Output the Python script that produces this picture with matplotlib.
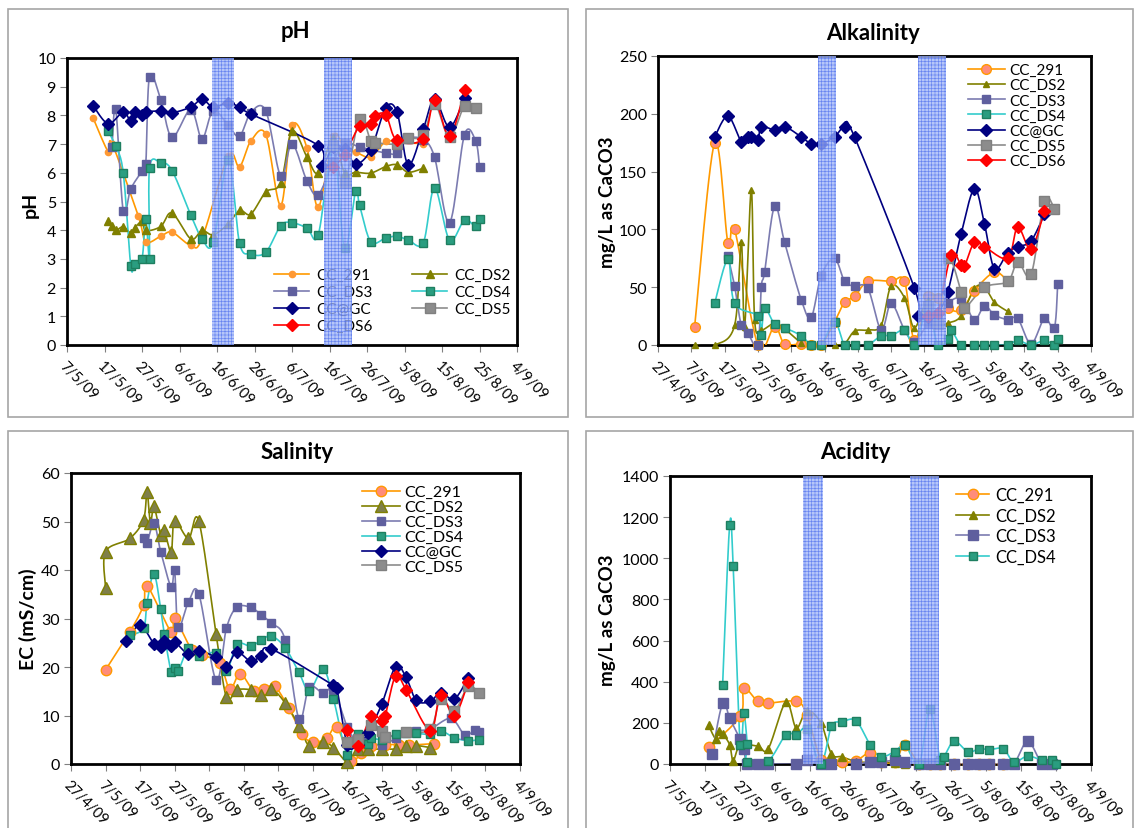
"""Four-panel water quality time series (pH, alkalinity, salinity, acidity)."""

from datetime import datetime, timedelta

import matplotlib

matplotlib.use("Agg")
import matplotlib.dates as mdates
import matplotlib.pyplot as plt
import numpy as np
from matplotlib.lines import Line2D
from matplotlib.patches import Rectangle
from matplotlib.transforms import ScaledTranslation

plt.rcParams["font.family"] = ["Lato", "DejaVu Sans"]
plt.rcParams["hatch.linewidth"] = 0.45

# ---------------------------------------------------------------- data
# (sample date d/m of 2009, value)
PH_CC291 = [("14/5", 7.9), ("18/5", 6.73), ("19/5", 7.02), ("26/5", 4.5), ("28/5", 3.6),
            ("1/6", 3.79), ("4/6", 3.93), ("9/6", 3.47), ("12/6", 3.71), ("19/6", 6.58),
            ("22/6", 6.21), ("25/6", 7.1), ("29/6", 7.34), ("3/7", 4.86), ("6/7", 7.65),
            ("10/7", 6.86), ("13/7", 4.8), ("17/7", 7.28), ("20/7", 6.85), ("23/7", 6.72),
            ("27/7", 6.55), ("31/7", 7.1), ("3/8", 7.05), ("10/8", 7.02)]
PH_DS2 = [("18/5", 4.31), ("19/5", 4.13), ("20/5", 3.99), ("22/5", 4.12), ("24/5", 3.9),
          ("25/5", 4.08), ("27/5", 4.31), ("28/5", 3.99), ("1/6", 4.13), ("4/6", 4.6),
          ("9/6", 3.7), ("12/6", 3.99), ("15/6", 3.84), ("19/6", 4.22), ("22/6", 4.69),
          ("25/6", 4.56), ("29/6", 5.33), ("3/7", 5.65), ("6/7", 7.45), ("10/7", 6.55),
          ("13/7", 5.99), ("17/7", 7.2), ("20/7", 6.0), ("23/7", 6.02), ("27/7", 5.99),
          ("31/7", 6.22), ("3/8", 6.28), ("6/8", 6.02), ("10/8", 6.16)]
PH_DS3 = [("19/5", 6.9), ("20/5", 8.23), ("22/5", 4.67), ("24/5", 5.44), ("27/5", 6.06),
          ("28/5", 6.29), ("29/5", 9.35), ("1/6", 8.55), ("4/6", 7.24), ("9/6", 8.2),
          ("12/6", 7.19), ("15/6", 8.17), ("19/6", 7.65), ("22/6", 7.27), ("25/6", 8.1),
          ("29/6", 8.16), ("3/7", 5.88), ("6/7", 7.01), ("10/7", 5.71), ("13/7", 5.24),
          ("17/7", 6.4), ("20/7", 7.05), ("24/7", 6.9), ("31/7", 6.69), ("3/8", 6.69),
          ("6/8", 7.19), ("10/8", 7.15), ("13/8", 6.55), ("17/8", 4.26), ("21/8", 7.33),
          ("24/8", 7.1), ("25/8", 6.2)]
PH_DS4 = [("18/5", 7.44), ("20/5", 6.92), ("22/5", 6.0), ("24/5", 2.77), ("25/5", 2.83),
          ("27/5", 3.0), ("28/5", 4.4), ("29/5", 3.0), ("29/5", 6.17), ("1/6", 6.35),
          ("4/6", 6.08), ("9/6", 4.53), ("12/6", 3.7), ("15/6", 3.58), ("19/6", 6.45),
          ("22/6", 3.56), ("25/6", 3.17), ("29/6", 3.23), ("3/7", 4.16), ("6/7", 4.26),
          ("10/7", 4.08), ("13/7", 3.84), ("17/7", 6.9), ("20/7", 3.38), ("23/7", 5.38),
          ("24/7", 4.88), ("27/7", 3.6), ("31/7", 3.73), ("3/8", 3.79), ("6/8", 3.66),
          ("10/8", 3.56), ("13/8", 5.47), ("17/8", 3.66), ("21/8", 4.35), ("24/8", 4.13),
          ("25/8", 4.4)]
PH_GC = [("14/5", 8.33), ("18/5", 7.71), ("22/5", 8.12), ("24/5", 7.79), ("25/5", 8.12),
         ("27/5", 8.0), ("28/5", 8.12), ("1/6", 8.15), ("4/6", 8.09), ("9/6", 8.29),
         ("12/6", 8.56), ("15/6", 8.29), ("19/6", 8.44), ("22/6", 8.28), ("25/6", 8.05),
         ("13/7", 6.95), ("14/7", 6.23), ("17/7", 6.9), ("20/7", 6.84), ("23/7", 6.31),
         ("27/7", 6.8), ("31/7", 8.26), ("3/8", 8.12), ("6/8", 6.28), ("10/8", 7.53),
         ("13/8", 8.56), ("17/8", 7.59), ("21/8", 8.6)]
PH_DS5 = [("17/7", 6.96), ("20/7", 5.66), ("24/7", 7.89), ("27/7", 7.1), ("28/7", 7.05),
          ("3/8", 7.0), ("6/8", 7.2), ("10/8", 7.3), ("13/8", 8.4), ("17/8", 7.24),
          ("21/8", 8.33), ("24/8", 8.27)]
PH_DS6 = [("17/7", 6.2), ("20/7", 6.63), ("24/7", 7.63), ("27/7", 7.71), ("28/7", 7.98),
          ("31/7", 8.02), ("3/8", 7.13), ("10/8", 7.19), ("13/8", 8.52), ("17/8", 7.28),
          ("21/8", 8.87)]

ALK_CC291 = [("8/5", 16), ("14/5", 175), ("18/5", 88), ("20/5", 100), ("27/5", 0),
             ("1/6", 16), ("4/6", 1), ("9/6", 1), ("12/6", 0), ("15/6", 0), ("19/6", 20),
             ("22/6", 37), ("25/6", 42), ("29/6", 55), ("6/7", 55), ("10/7", 55),
             ("13/7", 4), ("17/7", 42), ("20/7", 41), ("23/7", 32), ("27/7", 30),
             ("31/7", 47), ("6/8", 63), ("10/8", 55)]
ALK_DS2 = [("8/5", 0), ("14/5", 0), ("20/5", 17), ("22/5", 89), ("23/5", 16),
           ("25/5", 134), ("26/5", 22), ("28/5", 13), ("1/6", 19), ("4/6", 14), ("9/6", 2),
           ("12/6", 0), ("15/6", 0), ("19/6", 0), ("22/6", 1), ("25/6", 12), ("29/6", 13),
           ("3/7", 17), ("6/7", 51), ("10/7", 41), ("13/7", 15), ("17/7", 39),
           ("20/7", 18), ("23/7", 19), ("27/7", 25), ("31/7", 49), ("3/8", 50),
           ("6/8", 37), ("10/8", 29)]
ALK_DS3 = [("18/5", 77), ("20/5", 51), ("22/5", 17), ("24/5", 10), ("27/5", 0),
           ("28/5", 50), ("29/5", 63), ("1/6", 120), ("4/6", 89), ("9/6", 39),
           ("12/6", 24), ("15/6", 60), ("19/6", 75), ("22/6", 55), ("25/6", 51),
           ("29/6", 49), ("3/7", 13), ("6/7", 36), ("10/7", 13), ("13/7", 3), ("17/7", 18),
           ("20/7", 22), ("23/7", 36), ("27/7", 40), ("31/7", 22), ("3/8", 34),
           ("6/8", 26), ("10/8", 22), ("13/8", 23), ("17/8", 1), ("21/8", 23),
           ("24/8", 15), ("25/8", 53)]
ALK_DS4 = [("14/5", 36), ("18/5", 74), ("20/5", 36), ("27/5", 25), ("28/5", 9),
           ("29/5", 32), ("1/6", 18), ("4/6", 15), ("9/6", 8), ("12/6", 0), ("15/6", 0),
           ("19/6", 20), ("22/6", 0), ("25/6", 0), ("29/6", 0), ("3/7", 8), ("6/7", 8),
           ("10/7", 13), ("13/7", 0), ("17/7", 30), ("20/7", 0), ("23/7", 5), ("24/7", 13),
           ("27/7", 0), ("31/7", 0), ("3/8", 0), ("6/8", 0), ("10/8", 0), ("13/8", 4),
           ("17/8", 0), ("21/8", 4), ("24/8", 0), ("25/8", 5)]
ALK_GC = [("14/5", 180), ("18/5", 198), ("22/5", 176), ("24/5", 180), ("25/5", 180),
          ("27/5", 177), ("28/5", 189), ("1/6", 186), ("4/6", 189), ("9/6", 180),
          ("12/6", 174), ("15/6", 174), ("19/6", 180), ("22/6", 189), ("25/6", 180),
          ("13/7", 49), ("14/7", 25), ("17/7", 24), ("20/7", 28), ("23/7", 46),
          ("27/7", 96), ("31/7", 135), ("3/8", 105), ("6/8", 66), ("10/8", 80),
          ("13/8", 85), ("17/8", 90), ("21/8", 113)]
ALK_DS5 = [("17/7", 34), ("20/7", 18), ("23/7", 75), ("27/7", 46), ("28/7", 32),
           ("3/8", 50), ("10/8", 55), ("13/8", 72), ("17/8", 61), ("21/8", 125),
           ("24/8", 118)]
ALK_DS6 = [("17/7", 25), ("20/7", 28), ("24/7", 78), ("27/7", 69), ("28/7", 68),
           ("31/7", 89), ("3/8", 85), ("10/8", 75), ("13/8", 102), ("17/8", 83),
           ("21/8", 116)]

SAL_CC291 = [("7/5", 19.4), ("14/5", 27.2), ("18/5", 32.7), ("19/5", 36.8), ("26/5", 27.2),
             ("27/5", 30.1), ("1/6", 23.5), ("4/6", 22.5), ("9/6", 20.8), ("12/6", 15.5),
             ("15/6", 18.6), ("19/6", 15.0), ("22/6", 15.5), ("25/6", 16.0), ("29/6", 11.6),
             ("3/7", 6.1), ("6/7", 4.5), ("10/7", 5.3), ("13/7", 7.6), ("17/7", 0.7),
             ("20/7", 2.3), ("23/7", 3.8), ("27/7", 4.0), ("31/7", 4.0), ("3/8", 3.9),
             ("10/8", 4.2)]
SAL_DS2 = [("7/5", 36.3), ("7/5", 43.8), ("14/5", 46.5), ("18/5", 50.4), ("19/5", 56.1),
           ("20/5", 49.7), ("21/5", 53.1), ("23/5", 47.3), ("24/5", 48.2), ("26/5", 43.7),
           ("27/5", 50.1), ("31/5", 46.5), ("3/6", 50.1), ("8/6", 26.8), ("11/6", 13.8),
           ("14/6", 15.3), ("18/6", 15.3), ("21/6", 14.3), ("24/6", 15.5), ("28/6", 12.6),
           ("2/7", 7.9), ("5/7", 3.7), ("9/7", 4.6), ("12/7", 3.4), ("16/7", 0.5),
           ("19/7", 3.0), ("22/7", 3.0), ("26/7", 3.1), ("30/7", 3.1), ("2/8", 3.7),
           ("5/8", 3.8), ("9/8", 3.4)]
SAL_DS3 = [("18/5", 46.5), ("19/5", 45.6), ("21/5", 49.7), ("23/5", 43.7), ("26/5", 36.5),
           ("27/5", 40.1), ("28/5", 28.2), ("31/5", 33.4), ("3/6", 35.1), ("8/6", 17.3),
           ("11/6", 28.0), ("14/6", 32.3), ("18/6", 32.3), ("21/6", 30.8), ("24/6", 29.0),
           ("28/6", 25.6), ("2/7", 9.3), ("5/7", 15.9), ("9/7", 14.6), ("12/7", 15.3),
           ("16/7", 7.6), ("19/7", 4.5), ("22/7", 4.5), ("26/7", 3.9), ("30/7", 5.3),
           ("2/8", 6.5), ("5/8", 6.9), ("9/8", 7.2), ("15/8", 9.4), ("19/8", 6.0),
           ("22/8", 7.0), ("23/8", 6.5)]
SAL_DS4 = [("14/5", 26.5), ("18/5", 28.0), ("19/5", 33.2), ("21/5", 39.2), ("23/5", 31.9),
           ("24/5", 26.9), ("26/5", 19.0), ("27/5", 19.8), ("28/5", 19.1), ("31/5", 23.9),
           ("3/6", 22.3), ("8/6", 22.9), ("11/6", 19.1), ("14/6", 24.7), ("18/6", 24.3),
           ("21/6", 25.5), ("24/6", 26.4), ("28/6", 24.0), ("2/7", 18.9), ("5/7", 15.1),
           ("9/7", 19.5), ("12/7", 13.4), ("16/7", 1.9), ("19/7", 6.2), ("22/7", 4.1),
           ("23/7", 5.3), ("26/7", 5.0), ("30/7", 6.1), ("2/8", 6.3), ("5/8", 6.3),
           ("9/8", 6.1), ("12/8", 6.9), ("16/8", 5.4), ("20/8", 4.8), ("23/8", 5.0)]
SAL_GC = [("13/5", 25.3), ("17/5", 28.6), ("21/5", 24.8), ("23/5", 24.1), ("24/5", 25.3),
          ("26/5", 24.4), ("27/5", 25.2), ("31/5", 22.6), ("3/6", 23.3), ("8/6", 22.0),
          ("11/6", 20.1), ("14/6", 23.1), ("18/6", 21.2), ("21/6", 22.3), ("24/6", 23.7),
          ("12/7", 16.2), ("13/7", 15.6), ("16/7", 4.0), ("19/7", 4.0), ("22/7", 6.4),
          ("26/7", 12.4), ("30/7", 20.1), ("2/8", 17.9), ("5/8", 13.1), ("9/8", 12.9),
          ("12/8", 14.7), ("16/8", 13.4), ("20/8", 17.8)]
SAL_DS5 = [("16/7", 4.6), ("19/7", 5.2), ("23/7", 8.1), ("26/7", 6.9), ("27/7", 5.6),
           ("2/8", 6.5), ("9/8", 7.2), ("12/8", 13.4), ("16/8", 11.0), ("20/8", 16.0),
           ("23/8", 14.7)]
SAL_DS6 = [("16/7", 7.1), ("19/7", 3.8), ("23/7", 10.0), ("26/7", 8.9), ("27/7", 10.0),
           ("30/7", 18.2), ("2/8", 15.3), ("9/8", 6.9), ("12/8", 14.3), ("16/8", 10.0),
           ("20/8", 16.9)]

ACID_CC291 = [("18/5", 81), ("27/5", 233), ("28/5", 369), ("1/6", 304), ("4/6", 296),
              ("12/6", 304), ("15/6", 239), ("19/6", 21), ("22/6", 5), ("25/6", 8),
              ("29/6", 15), ("3/7", 55), ("6/7", 10), ("10/7", 10), ("13/7", 91),
              ("17/7", 0), ("20/7", 0), ("23/7", 0), ("27/7", 0), ("31/7", 0), ("3/8", 0),
              ("6/8", 0), ("10/8", 0)]
ACID_DS2 = [("18/5", 188), ("20/5", 123), ("21/5", 162), ("22/5", 147), ("24/5", 94),
            ("25/5", 16), ("27/5", 90), ("1/6", 87), ("4/6", 74), ("9/6", 300),
            ("12/6", 175), ("15/6", 260), ("19/6", 200), ("22/6", 50), ("25/6", 35),
            ("29/6", 12), ("3/7", 8), ("6/7", 10), ("10/7", 5), ("13/7", 0)]
ACID_DS3 = [("19/5", 50), ("22/5", 296), ("24/5", 223), ("27/5", 120), ("28/5", 74),
            ("29/5", 0), ("1/6", 0), ("4/6", 0), ("12/6", 0), ("15/6", 18), ("19/6", 0),
            ("22/6", 0), ("29/6", 0), ("3/7", 10), ("6/7", 10), ("10/7", 18), ("13/7", 10),
            ("17/7", 0), ("20/7", 0), ("23/7", 0), ("27/7", 0), ("31/7", 0), ("3/8", 0),
            ("6/8", 0), ("10/8", 0), ("13/8", 0), ("17/8", 110), ("21/8", 0), ("24/8", 0)]
ACID_DS4 = [("22/5", 385), ("24/5", 1161), ("25/5", 963), ("27/5", 90), ("28/5", 249),
            ("29/5", 97), ("29/5", 10), ("4/6", 16), ("9/6", 142), ("12/6", 142),
            ("15/6", 168), ("19/6", 0), ("22/6", 183), ("25/6", 204), ("29/6", 211),
            ("3/7", 94), ("6/7", 35), ("10/7", 60), ("13/7", 91), ("17/7", 0),
            ("20/7", 265), ("23/7", 18), ("24/7", 32), ("27/7", 110), ("31/7", 58),
            ("3/8", 74), ("6/8", 70), ("10/8", 74), ("13/8", 10), ("17/8", 39),
            ("21/8", 18), ("24/8", 18), ("25/8", 0)]

BANDS_PH = [("2009-06-14 14:00", "2009-06-20 10:00"), ("2009-07-14 12:00", "2009-07-22 02:00")]
BANDS_ALK = [("2009-06-14 00:00", "2009-06-19 12:00"), ("2009-07-14 02:00", "2009-07-22 12:00")]
BANDS_ACID = [("2009-06-14 00:00", "2009-06-19 16:00"), ("2009-07-14 10:00", "2009-07-22 14:00")]

# ---------------------------------------------------------------- styles
STYLE = {
    "CC_291": dict(color="#FF9900", marker="o", mfc="#FF8C7A", mec="#FF9900"),
    "CC_DS2": dict(color="#808000", marker="^", mfc="#808000", mec="#808000"),
    "CC_DS3": dict(color="#7B7BB0", marker="s", mfc="#5F5F9E", mec="#5F5F9E"),
    "CC_DS4": dict(color="#33CCCC", marker="s", mfc="#2A9D80", mec="#1E7F60"),
    "CC@GC": dict(color="#000080", marker="D", mfc="#000080", mec="#000080"),
    "CC_DS5": dict(color="#8C8C8C", marker="s", mfc="#8C8C8C", mec="#808080"),
    "CC_DS6": dict(color="#FF0000", marker="D", mfc="#FF0000", mec="#FF0000"),
}

W, H = 1140, 829


def _d(s):
    day, month = s.split("/")
    return datetime(2009, int(month), int(day))


def _smooth(ax, x, y, steps=14):
    """Catmull-Rom curve through the points, built in display space."""
    pts = ax.transData.transform(np.column_stack([x, y]))
    n = len(pts)
    if n < 3:
        return np.asarray(x), np.asarray(y)
    tang = np.zeros_like(pts)
    tang[1:-1] = 0.5 * (pts[2:] - pts[:-2])
    tang[0] = 0.5 * (pts[1] - pts[0])
    tang[-1] = 0.5 * (pts[-1] - pts[-2])
    t = np.linspace(0, 1, steps, endpoint=False)[:, None]
    h00 = 2 * t**3 - 3 * t**2 + 1
    h10 = t**3 - 2 * t**2 + t
    h01 = -2 * t**3 + 3 * t**2
    h11 = t**3 - t**2
    segs = [h00 * pts[i] + h10 * tang[i] + h01 * pts[i + 1] + h11 * tang[i + 1]
            for i in range(n - 1)]
    segs.append(pts[-1:])
    curve = ax.transData.inverted().transform(np.vstack(segs))
    return curve[:, 0], curve[:, 1]


def _fig_rect(left, top, right, bottom):
    return [left / W, 1 - bottom / H, (right - left) / W, (bottom - top) / H]


def draw_panel(fig, rect, series, start, n_ticks, ymax, ystep, bands, sizes, lw=1.2,
               overrides=None):
    ax = fig.add_axes(rect)
    t0 = _d(start)
    ticks = [t0 + timedelta(days=10 * i) for i in range(n_ticks)]
    ax.set_xlim(mdates.date2num(ticks[0]), mdates.date2num(ticks[-1]))
    ax.set_ylim(0, ymax)
    ax.set_xticks(mdates.date2num(ticks))
    ax.set_xticklabels([f"{d.day}/{d.month}/09" for d in ticks], rotation=-45,
                       ha="left", va="top", rotation_mode="anchor", fontsize=10.5)
    shift = ScaledTranslation(10 / 100, 0, fig.dpi_scale_trans)
    for lab in ax.get_xticklabels():
        lab.set_transform(lab.get_transform() + shift)
    ax.set_yticks(np.arange(0, ymax + ystep / 2, ystep))
    ax.tick_params(axis="y", labelsize=11.5, length=5, color="#808080", pad=3)
    ax.tick_params(axis="x", length=5, color="#808080", pad=5)
    for sp in ax.spines.values():
        sp.set_linewidth(2)
        sp.set_color("black")

    overrides = overrides or {}
    handles = {}
    for name, pts in series:
        st = dict(STYLE[name])
        st.update(overrides.get(name, {}))
        x = mdates.date2num([_d(s) for s, _ in pts])
        y = np.array([v for _, v in pts], dtype=float)
        sx, sy = _smooth(ax, x, y)
        ax.plot(sx, sy, color=st["color"], lw=lw, zorder=3)
        ax.plot(x, y, ls="none", marker=st["marker"], ms=sizes[name], mfc=st["mfc"],
                mec=st["mec"], mew=1.0, zorder=4, clip_on=False)
        handles[name] = Line2D([], [], color=st["color"], lw=lw, marker=st["marker"],
                               ms=sizes[name], mfc=st["mfc"], mec=st["mec"])

    for b0, b1 in bands:
        ax.axvspan(mdates.date2num(datetime.fromisoformat(b0)),
                   mdates.date2num(datetime.fromisoformat(b1)),
                   facecolor="#A2B6F8", edgecolor="#4F70EE", hatch="+++++",
                   linewidth=0, alpha=0.78, zorder=6)
    return ax, handles


def add_legend(ax, handles, order, x, y, fontsize, **kw):
    ax.legend([handles[k] for k in order], order, loc="upper left",
              bbox_to_anchor=(x / W, 1 - y / H), bbox_transform=fig.transFigure,
              frameon=False, fontsize=fontsize, borderpad=0, borderaxespad=0, **kw)


fig = plt.figure(figsize=(W / 100, H / 100), dpi=100)

# panel frames
for x0, y0, x1, y1 in [(8, 10, 568, 418), (586, 10, 1133, 418),
                       (8, 432, 568, 845), (586, 432, 1133, 845)]:
    fig.add_artist(Rectangle((x0 / W, 1 - y1 / H), (x1 - x0) / W, (y1 - y0) / H,
                             transform=fig.transFigure, fill=False, edgecolor="#A6A6A6",
                             linewidth=1.2))

# ---- pH
ph_sizes = {"CC_291": 4.5, "CC_DS2": 6, "CC_DS3": 6, "CC_DS4": 6, "CC@GC": 6,
            "CC_DS5": 7, "CC_DS6": 6}
ax_ph, h = draw_panel(
    fig, _fig_rect(67, 59, 517, 346),
    [("CC_291", PH_CC291), ("CC_DS2", PH_DS2), ("CC_DS3", PH_DS3), ("CC_DS4", PH_DS4),
     ("CC@GC", PH_GC), ("CC_DS5", PH_DS5), ("CC_DS6", PH_DS6)],
    "7/5", 13, 10, 1, BANDS_PH, ph_sizes,
    overrides={"CC_291": dict(mfc="#FF9933", mec="#FF9933")})
add_legend(ax_ph, h, ["CC_291", "CC_DS3", "CC@GC", "CC_DS6", "CC_DS2", "CC_DS4", "CC_DS5"],
           274, 269, 11, ncol=2, handlelength=2.3, handletextpad=0.45, labelspacing=0.2,
           columnspacing=2.6)

# ---- Alkalinity
alk_sizes = {"CC_291": 7, "CC_DS2": 5, "CC_DS3": 6, "CC_DS4": 6, "CC@GC": 6,
             "CC_DS5": 7, "CC_DS6": 6.5}
ax_alk, h = draw_panel(
    fig, _fig_rect(658, 57, 1091, 346),
    [("CC_291", ALK_CC291), ("CC_DS2", ALK_DS2), ("CC_DS3", ALK_DS3), ("CC_DS4", ALK_DS4),
     ("CC@GC", ALK_GC), ("CC_DS5", ALK_DS5), ("CC_DS6", ALK_DS6)],
    "27/4", 14, 250, 50, BANDS_ALK, alk_sizes)
add_legend(ax_alk, h, ["CC_291", "CC_DS2", "CC_DS3", "CC_DS4", "CC@GC", "CC_DS5", "CC_DS6"],
           968, 64, 11, handlelength=2.4, handletextpad=0.3, labelspacing=0.08)

# ---- Salinity
sal_sizes = {"CC_291": 7.5, "CC_DS2": 8, "CC_DS3": 6, "CC_DS4": 6, "CC@GC": 6.5,
             "CC_DS5": 7, "CC_DS6": 6.5}
ax_sal, h = draw_panel(
    fig, _fig_rect(71, 474, 520, 765),
    [("CC_291", SAL_CC291), ("CC_DS2", SAL_DS2), ("CC_DS3", SAL_DS3), ("CC_DS4", SAL_DS4),
     ("CC@GC", SAL_GC), ("CC_DS5", SAL_DS5), ("CC_DS6", SAL_DS6)],
    "27/4", 14, 60, 10, [], sal_sizes,
    overrides={"CC_DS2": dict(mfc="#7F7F4A", mec="#808000")})
add_legend(ax_sal, h, ["CC_291", "CC_DS2", "CC_DS3", "CC_DS4", "CC@GC", "CC_DS5"],
           362, 486, 11.5, handlelength=2.4, handletextpad=0.25, labelspacing=0.05)

# ---- Acidity
acid_sizes = {"CC_291": 7.5, "CC_DS2": 5.5, "CC_DS3": 6.5, "CC_DS4": 6}
ax_acid, h = draw_panel(
    fig, _fig_rect(670, 477, 1091, 765),
    [("CC_291", ACID_CC291), ("CC_DS2", ACID_DS2), ("CC_DS3", ACID_DS3),
     ("CC_DS4", ACID_DS4)],
    "7/5", 13, 1400, 200, BANDS_ACID, acid_sizes)
add_legend(ax_acid, h, ["CC_291", "CC_DS2", "CC_DS3", "CC_DS4"],
           956, 488, 12, handlelength=2.0, handletextpad=0.35, labelspacing=0.27)

# titles and axis labels
for txt, x, y in [("pH", 295, 32), ("Alkalinity", 873, 33), ("Salinity", 297, 453),
                  ("Acidity", 855, 453)]:
    fig.text(x / W, 1 - y / H, txt, ha="center", va="center", fontsize=16,
             fontweight="bold")
for txt, x, y, fs in [("pH", 30, 205, 14), ("mg/L as CaCO3", 607, 202, 13.5),
                      ("EC (mS/cm)", 28, 619, 14), ("mg/L as CaCO3", 607, 620, 13.5)]:
    fig.text(x / W, 1 - y / H, txt, ha="center", va="center", rotation=90,
             fontsize=fs, fontweight="bold")

fig.savefig("out.png", dpi=100)
